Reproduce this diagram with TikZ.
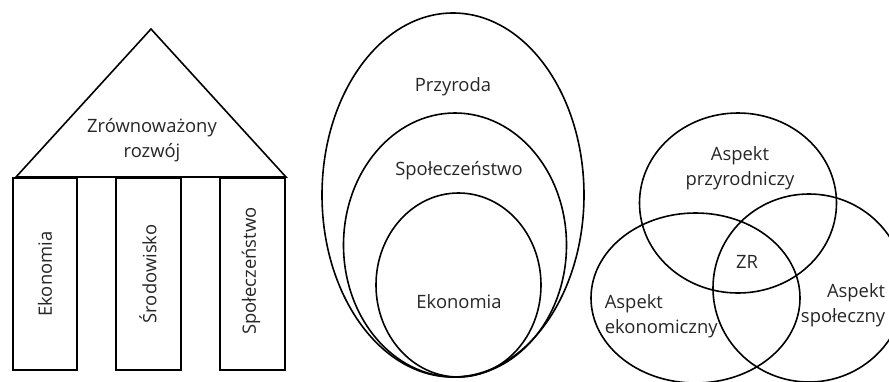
\documentclass[tikz,border=0pt]{standalone}
\usepackage{fontspec}
\setmainfont{Open Sans}
\begin{document}
\begin{tikzpicture}[x=1pt, y=-1pt, line width=1.6pt,
	txt/.style={font=\fontsize{18.4}{25}\selectfont, text=black!85, inner sep=0pt, align=center}]
	\useasboundingbox (0, 0) rectangle (889, 381);
	\clip (0, 0) rectangle (889, 381);

	% temple
	\coordinate (roofL) at (16, 177);
	\coordinate (roofT) at (151, 29);
	\coordinate (roofR) at (286, 177);
	\draw (roofL) -- (roofT) -- (roofR) -- cycle;
	\draw (13, 178) rectangle (77, 370);
	\draw (116, 178) rectangle (181, 370);
	\draw (220, 178) rectangle (285, 370);
	\node[txt] (zr) at (152, 140) {Zrównoważony\\rozwój};
	\node[txt, rotate=90] (eko) at (45, 274) {Ekonomia};
	\node[txt, rotate=90] (sro) at (148, 274) {Środowisko};
	\node[txt, rotate=90] (spo) at (251, 271) {Społeczeństwo};

	% nested ellipses
	\draw (453, 195) ellipse (131 and 182);
	\draw (455, 245) ellipse (111.5 and 132);
	\draw (458.5, 285) ellipse (82.5 and 92);
	\node[txt] (przyr) at (453, 87) {Przyroda};
	\node[txt] (spol) at (459, 171) {Społeczeństwo};
	\node[txt] (ekon) at (459, 302) {Ekonomia};

	% three aspects
	\draw (738, 203) ellipse (98.5 and 90);
	\draw (695.5, 298) ellipse (104.5 and 85);
	\draw (809, 288) ellipse (96 and 94);
	\node[txt] (apr) at (740, 168) {Aspekt\\przyrodniczy};
	\node[txt] (srodek) at (747, 262) {ZR};
	\node[txt, align=left, anchor=west] (aek) at (604, 316) {Aspekt\\ekonomiczny};
	\node[txt, align=right, anchor=east] (asp) at (886, 305) {Aspekt\\społeczny};
\end{tikzpicture}
\end{document}
